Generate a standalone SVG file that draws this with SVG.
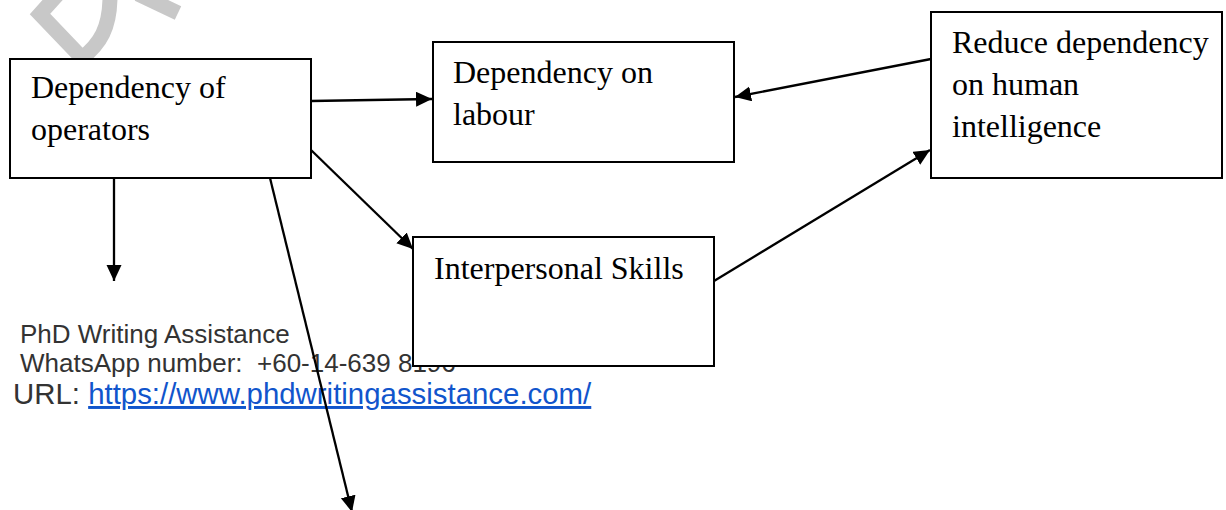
<svg xmlns="http://www.w3.org/2000/svg" width="1226" height="510" viewBox="0 0 1226 510">
  <style>
    .box { fill: #ffffff; stroke: #000000; stroke-width: 2; }
    .lbl { font-family: "Liberation Serif", "Times New Roman", serif; font-size: 32px; fill: #000000; }
    .conn { stroke: #000000; stroke-width: 2.3; fill: none; }
    .info { font-family: "Liberation Sans", Arial, sans-serif; font-size: 26px; fill: #333333; }
    .url { font-family: "Liberation Sans", Arial, sans-serif; font-size: 29.4px; fill: #333333; }
    .link { fill: #1155cc; text-decoration: underline; }
    .wm { stroke: #c8c8c8; stroke-width: 15; fill: none; stroke-linejoin: miter; }
  </style>
  <defs>
    <marker id="arrow" markerUnits="userSpaceOnUse" markerWidth="18" markerHeight="16" refX="16" refY="7.5" orient="auto">
      <path d="M0,0 L16,7.5 L0,15 z" fill="#000000"/>
    </marker>
  </defs>
  <rect width="1226" height="510" fill="#ffffff"/>

  <g id="watermark">
    <path class="wm" d="M58,-6 L40,14 L82,58 C100,44 110,28 110,-4"/>
    <path class="wm" d="M138,-6 L178,13"/>
  </g>

  <g id="contact-info">
    <text class="info" x="20" y="343">PhD Writing Assistance</text>
    <text class="info" x="20" y="372" xml:space="preserve">WhatsApp number:  +60-14-639 8196</text>
    <text class="url" x="13" y="404">URL: <tspan class="link">https://www.phdwritingassistance.com/</tspan></text>
  </g>

  <g id="node-operators">
    <rect class="box" x="10" y="59" width="301" height="119"/>
    <text class="lbl" x="31" y="98">Dependency of</text>
    <text class="lbl" x="31" y="140">operators</text>
  </g>

  <g id="node-labour">
    <rect class="box" x="433" y="42" width="301" height="120"/>
    <text class="lbl" x="453" y="83">Dependency on</text>
    <text class="lbl" x="453" y="125">labour</text>
  </g>

  <g id="node-reduce">
    <rect class="box" x="931" y="12" width="291" height="166"/>
    <text class="lbl" x="952" y="53">Reduce dependency</text>
    <text class="lbl" x="952" y="95">on human</text>
    <text class="lbl" x="952" y="137">intelligence</text>
  </g>

  <g id="node-interpersonal">
    <rect class="box" x="413" y="237" width="301" height="129"/>
    <text class="lbl" x="434" y="279">Interpersonal Skills</text>
  </g>

  <g id="connectors">
    <line class="conn" x1="311" y1="101" x2="432" y2="99" marker-end="url(#arrow)"/>
    <line class="conn" x1="931" y1="59" x2="735" y2="97" marker-end="url(#arrow)"/>
    <line class="conn" x1="311" y1="150" x2="413" y2="249" marker-end="url(#arrow)"/>
    <line class="conn" x1="714" y1="281" x2="930" y2="150" marker-end="url(#arrow)"/>
    <line class="conn" x1="114" y1="178" x2="114" y2="281" marker-end="url(#arrow)"/>
    <line class="conn" x1="270" y1="178" x2="352" y2="512" marker-end="url(#arrow)"/>
  </g>
</svg>
